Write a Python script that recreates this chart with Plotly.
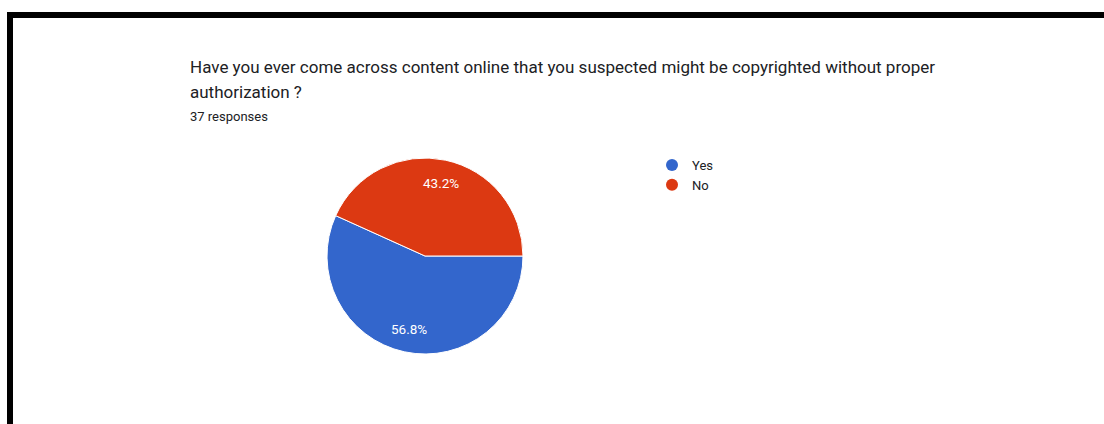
import math
import plotly.graph_objects as go

# Survey responses
labels = ["Yes", "No"]
counts = [21, 16]
colors = ["#3366CC", "#DC3912"]

title_lines = [
    "Have you ever come across content online that you suspected might be copyrighted without proper",
    "authorization ?",
]
subtitle = "37 responses"

W, H = 1104, 424


def px(x):
    return x / W


def py(y):
    return 1 - y / H


# Pie placement (pixels)
PIE_LEFT, PIE_RIGHT, PIE_TOP, PIE_BOTTOM = 327, 523, 158, 354
START_ANGLE = 90  # degrees clockwise from 12 o'clock
LABEL_RADIUS = 0.76

fig = go.Figure()

fig.add_trace(go.Pie(
    labels=labels,
    values=counts,
    marker=dict(colors=colors, line=dict(color="white", width=1)),
    sort=False,
    direction="clockwise",
    rotation=START_ANGLE,
    textinfo="none",
    domain=dict(x=[px(PIE_LEFT), px(PIE_RIGHT)], y=[py(PIE_BOTTOM), py(PIE_TOP)]),
    showlegend=False,
    hoverinfo="label+percent",
))

# Legend entries with round markers
for lab, col in zip(labels, colors):
    fig.add_trace(go.Scatter(
        x=[None], y=[None], mode="markers", name=lab,
        marker=dict(symbol="circle", size=12, color=col),
    ))

annotations = [
    dict(text=title_lines[0], x=px(189), y=py(67), xanchor="left", yanchor="middle",
         font=dict(family="Roboto", size=17, color="#202124")),
    dict(text=title_lines[1], x=px(189), y=py(92), xanchor="left", yanchor="middle",
         font=dict(family="Roboto", size=17, color="#202124")),
    dict(text=subtitle, x=px(189), y=py(116), xanchor="left", yanchor="middle",
         font=dict(family="Roboto", size=13, color="#202124")),
]

# Percentage labels placed at each slice's mid-angle
total = sum(counts)
cx = (PIE_LEFT + PIE_RIGHT) / 2
cy = (PIE_TOP + PIE_BOTTOM) / 2
radius = (PIE_RIGHT - PIE_LEFT) / 2
cum = 0
for v in counts:
    mid = START_ANGLE + 360 * (cum + v / 2) / total
    cum += v
    a = math.radians(mid)
    lx = cx + LABEL_RADIUS * radius * math.sin(a)
    ly = cy - LABEL_RADIUS * radius * math.cos(a)
    annotations.append(dict(
        text=f"{100 * v / total:.1f}%", x=px(lx), y=py(ly),
        xanchor="center", yanchor="middle",
        font=dict(family="Roboto", size=13.5, color="white"),
    ))

for a in annotations:
    a.update(xref="paper", yref="paper", showarrow=False, borderpad=0)

# Black frame along the top and left edges
shapes = [
    dict(type="rect", xref="paper", yref="paper", x0=px(7), x1=1, y0=py(18), y1=py(12),
         fillcolor="black", line=dict(width=0)),
    dict(type="rect", xref="paper", yref="paper", x0=px(7), x1=px(13), y0=0, y1=py(12),
         fillcolor="black", line=dict(width=0)),
]

fig.update_layout(
    width=W, height=H,
    margin=dict(l=0, r=0, t=0, b=0),
    paper_bgcolor="white",
    plot_bgcolor="white",
    xaxis=dict(visible=False),
    yaxis=dict(visible=False),
    annotations=annotations,
    shapes=shapes,
    legend=dict(x=px(652), y=py(150), xanchor="left", yanchor="top",
                font=dict(family="Roboto", size=13, color="#202124"),
                bgcolor="rgba(0,0,0,0)", tracegroupgap=0, itemwidth=30),
    font=dict(family="Roboto"),
)

fig.write_html("out.html")
